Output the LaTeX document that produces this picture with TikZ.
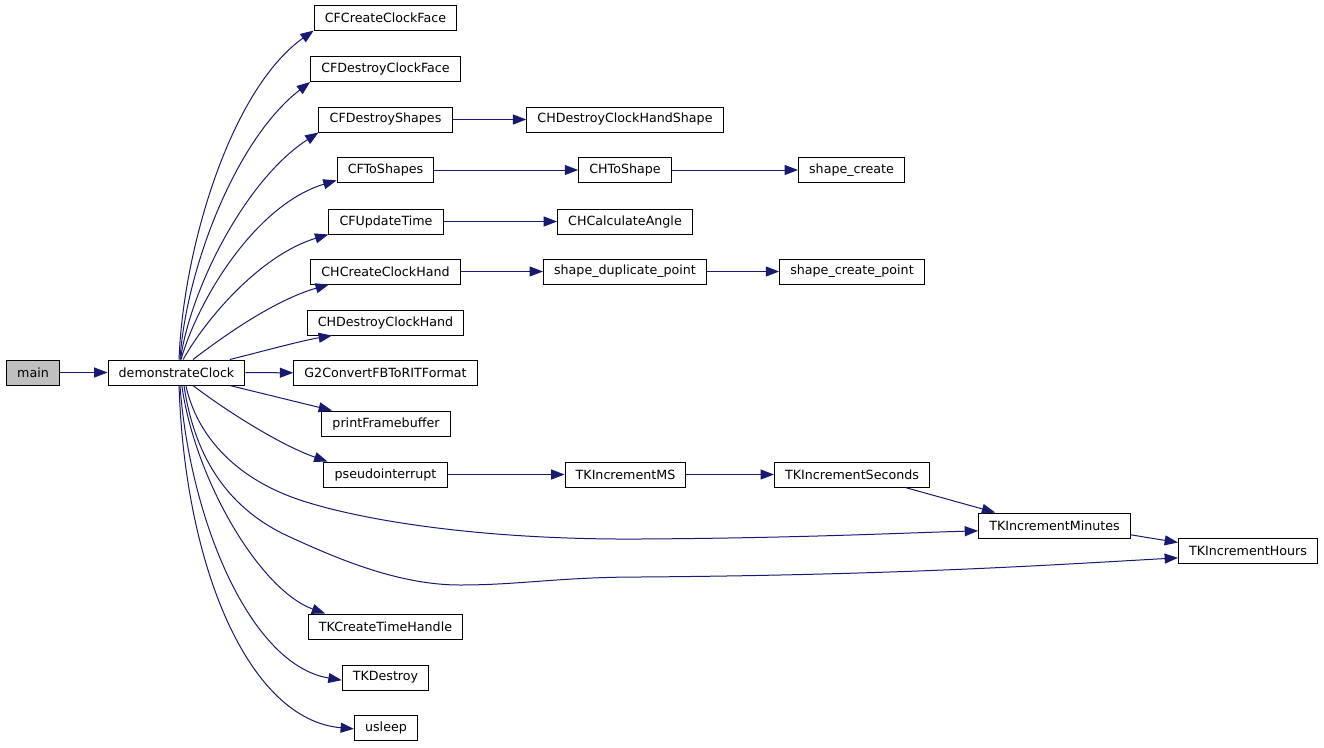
\documentclass[tikz,border=0pt]{standalone}
\usepackage{fontspec}
\setmainfont{DejaVu Sans}
\usetikzlibrary{arrows.meta}

\definecolor{callblue}{HTML}{191970}
\definecolor{rootgrey}{HTML}{BFBFBF}

\tikzset{every picture/.style={line width=0.75pt}}
\tikzset{
  fn/.style={draw=black, fill=white, font=\fontsize{9.5}{11}\selectfont,
    minimum height=18.75pt, inner xsep=8pt, inner ysep=0pt},
  call/.style={draw=callblue, -{Triangle[length=10pt,width=7.5pt]}}
}

\begin{document}
\begin{tikzpicture}[x=0.75pt,y=0.75pt,yscale=-1,xscale=1]
\path[use as bounding box] (0,0) rectangle (1324,747);

% Function Nodes
\node[fn, fill=rootgrey] (main) at (33,372.5) {main};
\node[fn] (dc) at (176.5,372.5) {demonstrateClock};

\node[fn] (cfcc) at (385.5,17.5) {CFCreateClockFace};
\node[fn] (cfdf) at (385.5,69) {CFDestroyClockFace};
\node[fn] (cfds) at (385.5,119.5) {CFDestroyShapes};
\node[fn] (cfts) at (385.5,170) {CFToShapes};
\node[fn] (cfut) at (386,221.5) {CFUpdateTime};
\node[fn] (chch) at (385.5,271.5) {CHCreateClockHand};
\node[fn] (chdh) at (385.5,322.5) {CHDestroyClockHand};
\node[fn] (g2) at (385.5,373) {G2ConvertFBToRITFormat};
\node[fn] (pfb) at (386,423.5) {printFramebuffer};
\node[fn] (psi) at (385.5,474.5) {pseudointerrupt};
\node[fn] (tkcth) at (385.5,626.5) {TKCreateTimeHandle};
\node[fn] (tkd) at (385.5,677.5) {TKDestroy};
\node[fn] (usl) at (386,727.5) {usleep};

\node[fn] (chdhs) at (625,119.5) {CHDestroyClockHandShape};
\node[fn] (chts) at (625,170) {CHToShape};
\node[fn] (chca) at (625,221.5) {CHCalculateAngle};
\node[fn] (shdp) at (625,271.5) {shape\_duplicate\_point};
\node[fn] (tkms) at (625.5,474.5) {TKIncrementMS};

\node[fn] (shc) at (851.5,170) {shape\_create};
\node[fn] (shcp) at (852,271.5) {shape\_create\_point};
\node[fn] (tksec) at (852,474.5) {TKIncrementSeconds};
\node[fn] (tkmin) at (1054.5,525.5) {TKIncrementMinutes};
\node[fn] (tkhr) at (1248,550.5) {TKIncrementHours};

% Straight Lines
\draw[call] (main) -- (dc);
\draw[call] (dc) -- (g2);
\draw[call] (cfds) -- (chdhs);
\draw[call] (cfts) -- (chts);
\draw[call] (chts) -- (shc);
\draw[call] (cfut) -- (chca);
\draw[call] (chch) -- (shdp);
\draw[call] (shdp) -- (shcp);
\draw[call] (psi) -- (tkms);
\draw[call] (tkms) -- (tksec);
\draw[call] ([xshift=40pt]tksec.south) -- ([xshift=-44.5pt]tkmin.north);
\draw[call] ([yshift=7pt]tkmin.east) -- ([yshift=-6pt]tkhr.west);
\draw[call] ([xshift=40pt]dc.north) .. controls (260,352) and (300,341) .. ([xshift=19pt]chdh.south west);
\draw[call] ([xshift=40pt]dc.south) -- ([xshift=8pt]pfb.north west);

% Curve Lines (upwards)
\draw[call] ([xshift=1.9pt]dc.north) .. controls (183,250) and (230,90) .. (cfcc.south west);
\draw[call] ([xshift=2.6pt]dc.north) .. controls (186,270) and (235,140) .. (cfdf.south west);
\draw[call] ([xshift=3pt]dc.north) .. controls (190,290) and (245,180) .. (cfds.south west);
\draw[call] ([xshift=3.4pt]dc.north) .. controls (198,300) and (255,205) .. ([yshift=-2pt]cfts.south west);
\draw[call] ([xshift=5pt]dc.north) .. controls (205,320) and (260,255) .. (cfut.south west);
\draw[call] ([xshift=12.4pt]dc.north) .. controls (225,335) and (275,300) .. ([xshift=14pt]chch.south west);

% Curve Lines (downwards)
\draw[call] ([xshift=12.4pt]dc.south) .. controls (225,410) and (280,445) .. ([xshift=3pt]psi.north west);
\draw[call] ([xshift=7pt]dc.south) .. controls (198,440) and (240,480) .. (300,500)
  .. controls (360,520) and (480,540) .. (640,539)
  .. controls (800,538) and (900,533) .. ([yshift=4pt]tkmin.west);
\draw[call] ([xshift=5.6pt]dc.south) .. controls (195,460) and (230,510) .. (290,537)
  .. controls (340,560) and (400,585) .. (460,585)
  .. controls (520,585) and (560,577) .. (640,577)
  .. controls (900,575) and (1050,565) .. ([yshift=5.5pt]tkhr.west);
\draw[call] ([xshift=4pt]dc.south) .. controls (195,480) and (260,590) .. ([xshift=13pt]tkcth.north west);
\draw[call] ([xshift=2.6pt]dc.south) .. controls (190,520) and (250,665) .. ([yshift=2pt]tkd.west);
\draw[call] ([xshift=1.9pt]dc.south) .. controls (185,570) and (250,720) .. ([yshift=1pt]usl.west);

\end{tikzpicture}
\end{document}
